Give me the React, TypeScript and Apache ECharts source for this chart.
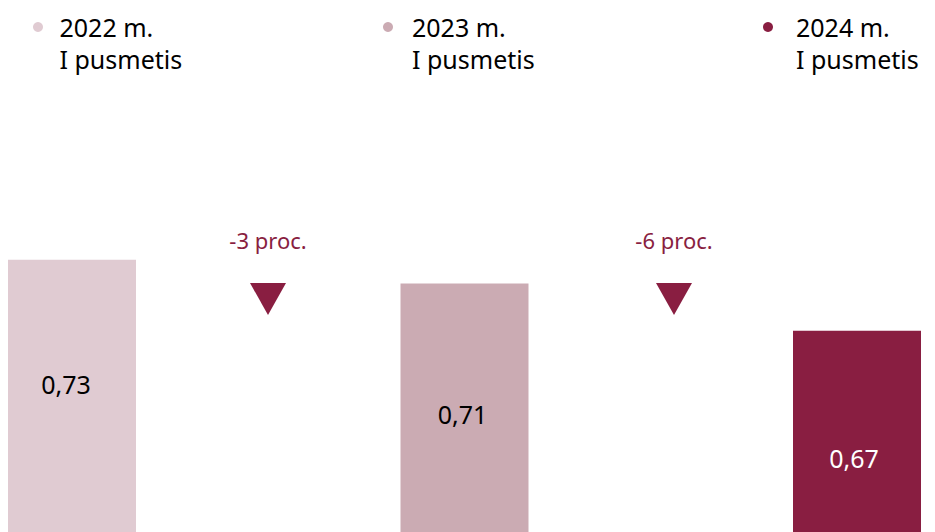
import React, { useEffect, useRef } from "react";
import * as echarts from "echarts";

const categories = ["2022 m.\nI pusmetis", "2023 m.\nI pusmetis", "2024 m.\nI pusmetis"];
const values = [0.73, 0.71, 0.67];
const changes = ["-3 proc.", "-6 proc."];

const colors = ["#E0CBD2", "#CBABB3", "#891E41"];
const labelColors = ["#000000", "#000000", "#FFFFFF"];
const labelOffsets = [[-6, 112], [-2, 118], [-3, 115]];
const legendLayout = [
  { left: 33, itemWidth: 33 },
  { left: 383, itemWidth: 38 },
  { left: 763, itemWidth: 46 },
];
const changeX = [268, 674];

export default function App() {
  const ref = useRef<HTMLDivElement>(null);
  useEffect(() => {
    if (!ref.current) return;
    const chart = echarts.init(ref.current, undefined, { renderer: "svg" });
    const font = "Noto Sans";
    const series = categories.map((name, i) => ({
      name,
      type: "bar",
      barWidth: 128,
      barGap: "-100%",
      clip: false,
      itemStyle: { color: colors[i] },
      label: {
        show: true,
        position: "insideTop",
        distance: 0,
        offset: labelOffsets[i],
        color: labelColors[i],
        fontSize: 25,
        fontFamily: font,
        formatter: (p: any) => String(p.value.toFixed(2)).replace(".", ","),
      },
      data: values.map((v, j) => (j === i ? v : null)),
    }));
    const graphic: any[] = [];
    changes.forEach((t, i) => {
      const cx = changeX[i];
      graphic.push({
        type: "text",
        x: cx,
        y: 240,
        style: {
          text: t,
          fill: "#891E41",
          fontSize: 22,
          fontFamily: font,
          align: "center",
          verticalAlign: "middle",
        },
      });
      graphic.push({
        type: "polygon",
        shape: { points: [[cx - 18, 283], [cx + 18, 283], [cx, 315]] },
        style: { fill: "#891E41" },
      });
    });
    chart.setOption({
      animation: false,
      grid: { left: 72, right: 78, top: 177, bottom: 0, containLabel: false },
      legend: categories.map((name, i) => ({
        data: [name],
        left: legendLayout[i].left,
        top: -21,
        padding: 0,
        icon: "circle",
        itemWidth: legendLayout[i].itemWidth,
        itemHeight: 10,
        selectedMode: false,
        formatter: (n: string) => " \n" + n,
        textStyle: {
          fontSize: 25,
          lineHeight: 32,
          color: "#000000",
          fontFamily: font,
        },
      })),
      xAxis: {
        type: "category",
        data: categories,
        boundaryGap: false,
        show: false,
      },
      yAxis: {
        type: "value",
        min: 0.5,
        max: 0.8,
        show: false,
        splitLine: { show: false },
      },
      series,
      graphic,
    });
    return () => chart.dispose();
  }, []);
  return (
    <div
      ref={ref}
      style={{ position: "fixed", left: 0, top: 0, width: 935, height: 532, background: "#fff" }}
    />
  );
}
